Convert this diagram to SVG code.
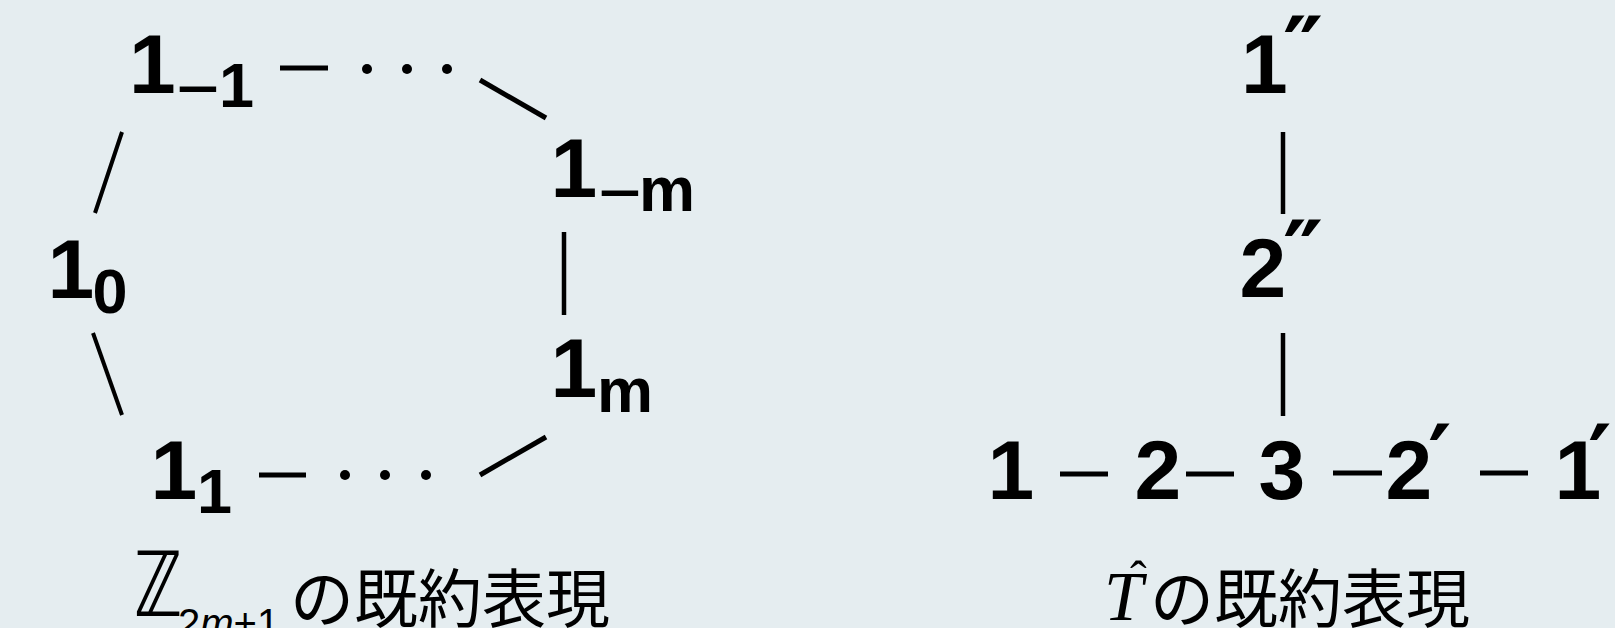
<svg xmlns="http://www.w3.org/2000/svg" width="1615" height="628" viewBox="0 0 1615 628">
<style>
.n{font-family:"Liberation Sans",Arial,Helvetica,sans-serif;font-weight:bold;font-size:84px;fill:#000}
.s{font-size:63px}
.mi{font-family:"Liberation Sans",Arial,sans-serif;font-weight:normal;font-size:75px;fill:#000}
.pr{font-family:"DejaVu Sans",sans-serif;font-weight:bold;font-size:90px;fill:#000}
.c line{stroke:#000;stroke-width:5;stroke-linecap:butt}
.c circle{fill:#000}
.cap{font-family:"Noto Sans CJK JP",sans-serif;font-size:64px;fill:#000}
</style>
<rect width="1615" height="628" fill="#e5edf0"/>
<g id="connectors" class="c">
  <line x1="280" y1="68" x2="328" y2="68"/>
  <circle cx="367" cy="69" r="5"/><circle cx="407" cy="69" r="5"/><circle cx="447" cy="69" r="5"/>
  <line x1="480" y1="80" x2="546" y2="118"/>
  <line x1="122" y1="132" x2="95" y2="213" style="stroke-width:4"/>
  <line x1="93" y1="333" x2="122" y2="415" style="stroke-width:4"/>
  <line x1="564" y1="232" x2="564" y2="315" style="stroke-width:4.5"/>
  <line x1="259" y1="475" x2="306" y2="475"/>
  <circle cx="345" cy="475" r="5"/><circle cx="385" cy="475" r="5"/><circle cx="426" cy="475" r="5"/>
  <line x1="480" y1="475" x2="546" y2="437"/>
  <line x1="1283" y1="132" x2="1283" y2="214" style="stroke-width:4.5"/>
  <line x1="1283" y1="333" x2="1283" y2="416" style="stroke-width:4.5"/>
  <line x1="1060" y1="474" x2="1108" y2="474"/>
  <line x1="1186" y1="474" x2="1234" y2="474"/>
  <line x1="1333" y1="473" x2="1382" y2="473"/>
  <line x1="1480" y1="473" x2="1528" y2="473"/>
</g>
<g id="node-1_-1"><text class="n" x="129" y="93">1</text><text class="mi" x="176" y="114">−</text><text class="n s" x="219" y="107">1</text></g>
<g id="node-1_0"><text class="n" x="47.5" y="298">1</text><text class="n s" x="92.5" y="313">0</text></g>
<g id="node-1_1"><text class="n" x="150.5" y="499">1</text><text class="n s" x="197" y="513">1</text></g>
<g id="node-1_-m"><text class="n" x="550.5" y="197">1</text><text class="mi" x="598" y="218">−</text><text class="n s" x="639" y="211">m</text></g>
<g id="node-1_m"><text class="n" x="550.5" y="397">1</text><text class="n s" x="597" y="412">m</text></g>
<g id="node-1pp"><text class="n" x="1241" y="93">1</text><text class="pr" x="1283" y="82">″</text></g>
<g id="node-2pp"><text class="n" x="1239.5" y="297">2</text><text class="pr" x="1283" y="286">″</text></g>
<g id="node-1"><text class="n" x="987.5" y="499">1</text></g>
<g id="node-2"><text class="n" x="1134.5" y="499">2</text></g>
<g id="node-3"><text class="n" x="1258.5" y="499">3</text></g>
<g id="node-2p"><text class="n" x="1385.5" y="499">2</text><text class="pr" x="1428" y="490">′</text></g>
<g id="node-1p"><text class="n" x="1554.5" y="499">1</text><text class="pr" x="1588" y="490">′</text></g>
<g id="caption-left">
  <text transform="translate(134,616) scale(0.72,1)" style="font-family:'DejaVu Sans',sans-serif;font-size:90px">ℤ</text>
  <text x="178" y="637" style="font-family:'Liberation Sans',sans-serif;font-size:40px">2<tspan font-style="italic">m</tspan>+1</text>
  <text class="cap" x="290" y="622">の既約表現</text>
</g>
<g id="caption-right">
  <text x="1104" y="620" style="font-family:'Liberation Serif',serif;font-style:italic;font-size:70px">T</text>
  <text x="1130" y="596" style="font-family:'Liberation Serif',serif;font-size:50px">ˆ</text>
  <text class="cap" x="1150" y="622">の既約表現</text>
</g>
</svg>
